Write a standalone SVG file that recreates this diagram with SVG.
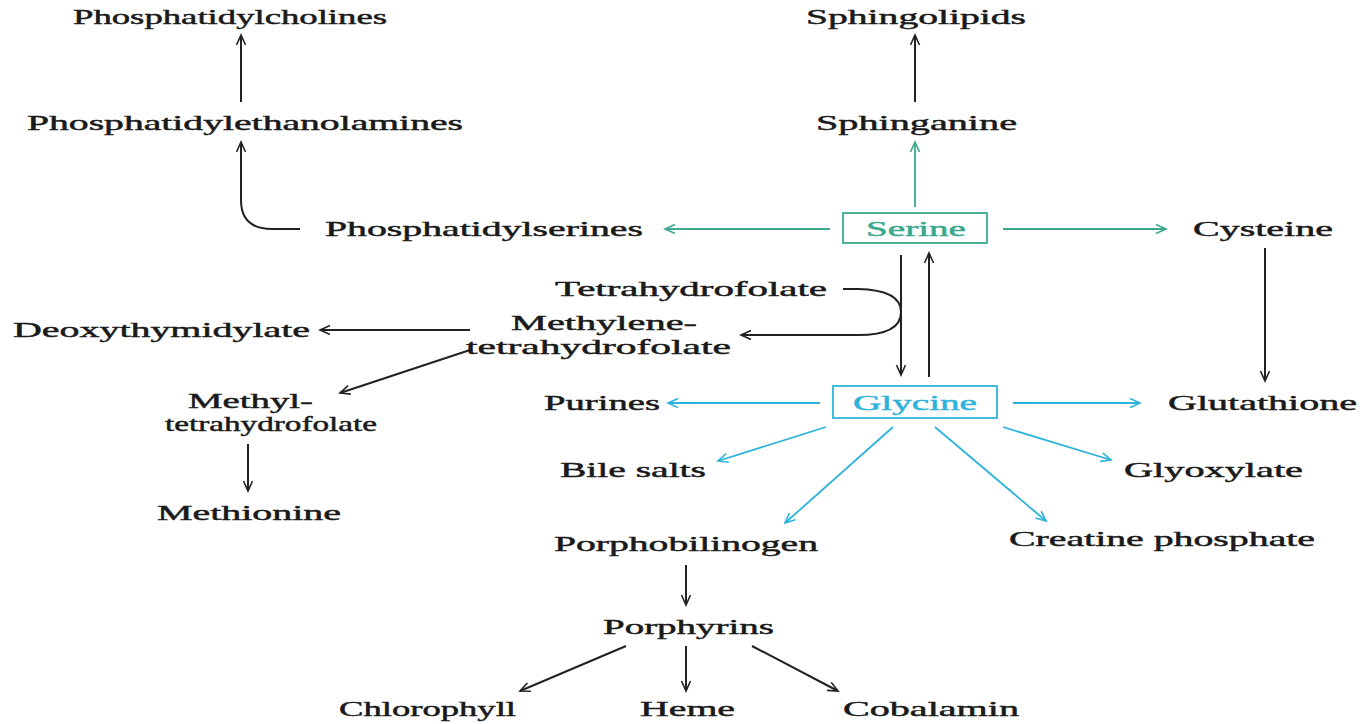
<svg xmlns="http://www.w3.org/2000/svg" width="1364" height="724" viewBox="0 0 1364 724">
  <style>
    text { font-family: "Liberation Serif", "Times New Roman", serif; font-size: 21px; fill: #1a1a1a; stroke: #1a1a1a; stroke-width: 0.45; }
    .ln { fill: none; stroke: #222; stroke-width: 2; }
    .tl { fill: none; stroke: #3aa88e; stroke-width: 1.8; }
    .bl { fill: none; stroke: #2db3da; stroke-width: 1.8; }
    .ts { fill: #3aa88e; stroke: #3aa88e; }
    .tb { fill: #2db3da; stroke: #2db3da; }
  </style>
  <defs>
    <marker id="ak" markerUnits="userSpaceOnUse" markerWidth="14" markerHeight="12" refX="11" refY="5" orient="auto">
      <path d="M1,0.5 L11,5 L1,9.5" fill="none" stroke="#222" stroke-width="1.6"/>
    </marker>
    <marker id="at" markerUnits="userSpaceOnUse" markerWidth="14" markerHeight="12" refX="11" refY="5" orient="auto">
      <path d="M1,0.5 L11,5 L1,9.5" fill="none" stroke="#3aa88e" stroke-width="1.6"/>
    </marker>
    <marker id="ab" markerUnits="userSpaceOnUse" markerWidth="14" markerHeight="12" refX="11" refY="5" orient="auto">
      <path d="M1,0.5 L11,5 L1,9.5" fill="none" stroke="#2db3da" stroke-width="1.6"/>
    </marker>
  </defs>
  <rect width="1364" height="724" fill="#fff"/>

  <!-- connectors -->
  <g id="connectors">
    <!-- phospholipid branch -->
    <path class="ln" d="M241,102 L241,35" marker-end="url(#ak)"/>
    <path class="ln" d="M300,229 L272,229 Q241,229 241,200 L241,142" marker-end="url(#ak)"/>
    <!-- sphingolipid branch -->
    <path class="tl" d="M915,207 L915,142" marker-end="url(#at)"/>
    <path class="ln" d="M915,102 L915,35" marker-end="url(#ak)"/>
    <!-- serine outputs -->
    <path class="tl" d="M830,229 L665,229" marker-end="url(#at)"/>
    <path class="tl" d="M1003,229 L1166,229" marker-end="url(#at)"/>
    <path class="ln" d="M1265,248 L1265,381" marker-end="url(#ak)"/>
    <!-- serine / glycine interconversion -->
    <path class="ln" d="M901,255 L901,375" marker-end="url(#ak)"/>
    <path class="ln" d="M929,377 L929,253" marker-end="url(#ak)"/>
    <!-- one-carbon transfer -->
    <path class="ln" d="M843,289 L858,289 Q901,290 901,312 Q901,335 858,335 L741,335" marker-end="url(#ak)"/>
    <path class="ln" d="M470,330 L320,330" marker-end="url(#ak)"/>
    <path class="ln" d="M470,350 L340,393" marker-end="url(#ak)"/>
    <path class="ln" d="M248,444 L248,491" marker-end="url(#ak)"/>
    <!-- glycine outputs -->
    <path class="bl" d="M820,403 L668,403" marker-end="url(#ab)"/>
    <path class="bl" d="M1013,403 L1140,403" marker-end="url(#ab)"/>
    <path class="bl" d="M826,427 L718,461" marker-end="url(#ab)"/>
    <path class="bl" d="M893,427 L785,523" marker-end="url(#ab)"/>
    <path class="bl" d="M935,427 L1046,521" marker-end="url(#ab)"/>
    <path class="bl" d="M1003,427 L1111,460" marker-end="url(#ab)"/>
    <!-- porphyrin branch -->
    <path class="ln" d="M686,565 L686,605" marker-end="url(#ak)"/>
    <path class="ln" d="M626,646 L520,691" marker-end="url(#ak)"/>
    <path class="ln" d="M686,646 L686,691" marker-end="url(#ak)"/>
    <path class="ln" d="M752,646 L838,691" marker-end="url(#ak)"/>
  </g>

  <!-- nodes -->
  <g id="n-phosphatidylcholines"><text x="73" y="24" textLength="314" lengthAdjust="spacingAndGlyphs">Phosphatidylcholines</text></g>
  <g id="n-sphingolipids"><text x="806" y="24" textLength="220" lengthAdjust="spacingAndGlyphs">Sphingolipids</text></g>
  <g id="n-phosphatidylethanolamines"><text x="27" y="130" textLength="436" lengthAdjust="spacingAndGlyphs">Phosphatidylethanolamines</text></g>
  <g id="n-sphinganine"><text x="816" y="130" textLength="201" lengthAdjust="spacingAndGlyphs">Sphinganine</text></g>
  <g id="n-phosphatidylserines"><text x="325" y="236" textLength="318" lengthAdjust="spacingAndGlyphs">Phosphatidylserines</text></g>
  <g id="n-serine">
    <rect x="843" y="213" width="144" height="30" fill="none" stroke="#3aa88e" stroke-width="1.8"/>
    <text class="ts" x="866" y="236" textLength="100" lengthAdjust="spacingAndGlyphs">Serine</text>
  </g>
  <g id="n-cysteine"><text x="1193" y="236" textLength="140" lengthAdjust="spacingAndGlyphs">Cysteine</text></g>
  <g id="n-tetrahydrofolate"><text x="555" y="296" textLength="272" lengthAdjust="spacingAndGlyphs">Tetrahydrofolate</text></g>
  <g id="n-methylene-thf">
    <text x="511" y="330" textLength="186" lengthAdjust="spacingAndGlyphs">Methylene-</text>
    <text x="466" y="354" textLength="265" lengthAdjust="spacingAndGlyphs">tetrahydrofolate</text>
  </g>
  <g id="n-deoxythymidylate"><text x="13" y="337" textLength="297" lengthAdjust="spacingAndGlyphs">Deoxythymidylate</text></g>
  <g id="n-methyl-thf">
    <text x="188" y="408" textLength="125" lengthAdjust="spacingAndGlyphs">Methyl-</text>
    <text x="165" y="431" textLength="212" lengthAdjust="spacingAndGlyphs">tetrahydrofolate</text>
  </g>
  <g id="n-methionine"><text x="157" y="520" textLength="184" lengthAdjust="spacingAndGlyphs">Methionine</text></g>
  <g id="n-purines"><text x="544" y="410" textLength="116" lengthAdjust="spacingAndGlyphs">Purines</text></g>
  <g id="n-glycine">
    <rect x="833" y="386" width="164" height="32" fill="none" stroke="#2db3da" stroke-width="1.8"/>
    <text class="tb" x="853" y="410" textLength="124" lengthAdjust="spacingAndGlyphs">Glycine</text>
  </g>
  <g id="n-glutathione"><text x="1168" y="410" textLength="189" lengthAdjust="spacingAndGlyphs">Glutathione</text></g>
  <g id="n-bile-salts"><text x="560" y="477" textLength="146" lengthAdjust="spacingAndGlyphs">Bile salts</text></g>
  <g id="n-glyoxylate"><text x="1124" y="477" textLength="179" lengthAdjust="spacingAndGlyphs">Glyoxylate</text></g>
  <g id="n-porphobilinogen"><text x="554" y="551" textLength="264" lengthAdjust="spacingAndGlyphs">Porphobilinogen</text></g>
  <g id="n-creatine-phosphate"><text x="1009" y="546" textLength="306" lengthAdjust="spacingAndGlyphs">Creatine phosphate</text></g>
  <g id="n-porphyrins"><text x="603" y="634" textLength="171" lengthAdjust="spacingAndGlyphs">Porphyrins</text></g>
  <g id="n-chlorophyll"><text x="339" y="716" textLength="177" lengthAdjust="spacingAndGlyphs">Chlorophyll</text></g>
  <g id="n-heme"><text x="640" y="716" textLength="95" lengthAdjust="spacingAndGlyphs">Heme</text></g>
  <g id="n-cobalamin"><text x="843" y="716" textLength="176" lengthAdjust="spacingAndGlyphs">Cobalamin</text></g>
</svg>
